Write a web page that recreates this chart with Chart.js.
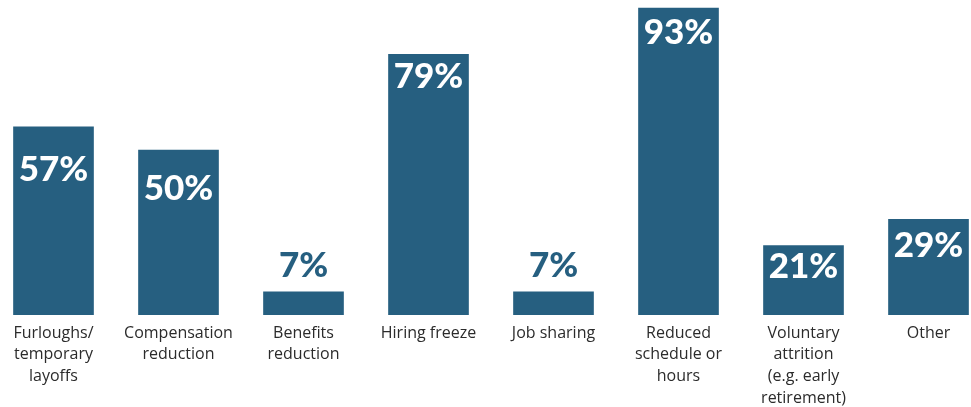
<!DOCTYPE html>
<html lang="en">
<head>
  <meta charset="UTF-8" />
  <title>Workforce actions</title>
  <script src="https://cdn.jsdelivr.net/npm/chart.js"></script>
  <style>
    html, body { margin: 0; padding: 0; background: #fff; overflow: hidden; }
    .wrap { position: absolute; left: -9px; top: 0; width: 1000px; height: 407px; }
  </style>
</head>
<body>
  <div class="wrap"><canvas id="chart"></canvas></div>

  <script>
    const categories = [
      ["Furloughs/", "temporary", "layoffs"],
      ["Compensation", "reduction"],
      ["Benefits", "reduction"],
      ["Hiring freeze"],
      ["Job sharing"],
      ["Reduced", "schedule or", "hours"],
      ["Voluntary", "attrition", "(e.g. early", "retirement)"],
      ["Other"]
    ];
    const percentages = [57, 50, 7, 79, 7, 93, 21, 29];

    const barColor = "#265f80";

    // where each value label sits, measured from the bar top (px)
    const labelDrop = [43, 39, -26, 22, -26, 25, 21, 26];

    const valueLabels = {
      id: "valueLabels",
      afterDatasetsDraw(chart) {
        const ctx = chart.ctx;
        const meta = chart.getDatasetMeta(0);
        ctx.save();
        ctx.font = "900 35px Lato, 'Open Sans', sans-serif";
        ctx.textAlign = "center";
        ctx.textBaseline = "middle";
        meta.data.forEach((bar, i) => {
          const drop = labelDrop[i];
          ctx.fillStyle = drop < 0 ? barColor : "#ffffff";
          ctx.fillText(percentages[i] + "%", bar.x, bar.y + drop);
        });
        ctx.restore();
      }
    };

    new Chart(document.getElementById("chart"), {
      type: "bar",
      data: {
        labels: categories,
        datasets: [{
          data: percentages,
          backgroundColor: barColor,
          barThickness: 80
        }]
      },
      options: {
        responsive: true,
        maintainAspectRatio: false,
        animation: false,
        layout: { padding: 0 },
        plugins: {
          legend: { display: false },
          tooltip: { enabled: false }
        },
        scales: {
          x: {
            grid: { display: false, drawTicks: false },
            border: { display: false },
            ticks: {
              color: "#2b2b2b",
              font: { family: "'Open Sans', sans-serif", size: 16, lineHeight: 1.37 },
              padding: 7,
              maxRotation: 0,
              autoSkip: false
            },
            afterFit(scale) { scale.height = 92; }
          },
          y: {
            display: false,
            min: 0,
            max: 315 / 3.3
          }
        }
      },
      plugins: [valueLabels]
    });
  </script>
</body>
</html>
